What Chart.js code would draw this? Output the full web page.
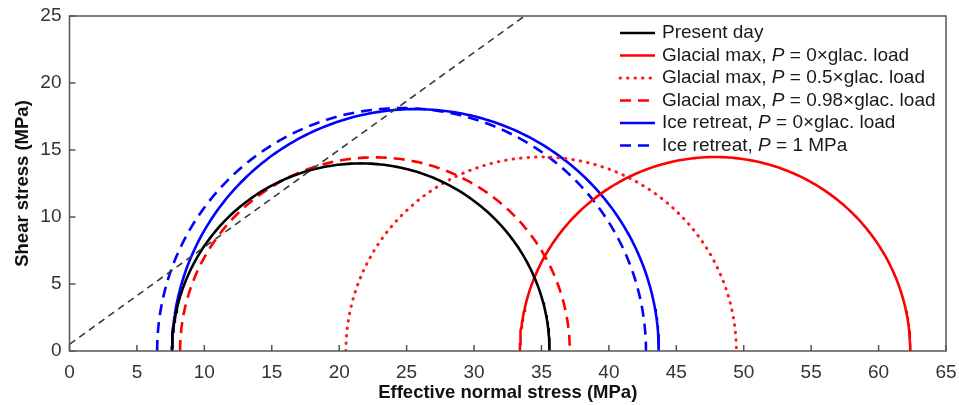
<!DOCTYPE html>
<html>
<head>
<meta charset="utf-8">
<script src="https://cdn.jsdelivr.net/npm/chart.js@4/dist/chart.umd.min.js"></script>
<style>
  html, body { margin: 0; padding: 0; background: #fff; }
  canvas { display: block; }
</style>
</head>
<body>
<canvas id="mohrChart" width="959" height="405"></canvas>
<script>
// Mohr circles: each stress state given by its minimum and maximum principal stress (MPa)
const stateLabels = [
    'Present day',
    'Glacial max, P = 0×glac. load',
    'Glacial max, P = 0.5×glac. load',
    'Glacial max, P = 0.98×glac. load',
    'Ice retreat, P = 0×glac. load',
    'Ice retreat, P = 1 MPa'
];
const sigma3 = [7.6, 33.4, 20.5, 8.2, 7.6, 6.5];
const sigma1 = [35.6, 62.35, 49.45, 37.1, 43.7, 42.75];

// Failure envelope (Coulomb line)
const envelopeX = [0, 33.75];
const envelopeY = [0.5, 25];

const xTicks = [0, 5, 10, 15, 20, 25, 30, 35, 40, 45, 50, 55, 60, 65];
const yTicks = [0, 5, 10, 15, 20, 25];

const lineColors = ['#000000', '#ff0000', '#ff1a1a', '#ff0000', '#0000ff', '#0000ff'];
const lineDashes = [[], [], [0.5, 7], [11, 7], [], [11, 7]];

// upper half of a Mohr circle between s3 and s1
function semicircle(s3, s1) {
    const c = (s1 + s3) / 2, r = (s1 - s3) / 2;
    const pts = [];
    for (let a = 180; a >= 0; a -= 1) {
        const t = a * Math.PI / 180;
        pts.push({ x: c + r * Math.cos(t), y: r * Math.sin(t) });
    }
    return pts;
}

const datasets = [{
    label: 'envelope',
    data: envelopeX.map((x, i) => ({ x: x, y: envelopeY[i] })),
    borderColor: '#3a3a3a',
    borderWidth: 1.6,
    borderDash: [7, 5],
    pointRadius: 0
}];
stateLabels.forEach((label, i) => {
    const dotted = lineDashes[i].length && lineDashes[i][0] < 2;
    datasets.push({
        label: label,
        data: semicircle(sigma3[i], sigma1[i]),
        borderColor: lineColors[i],
        borderWidth: dotted ? 3 : 2.6,
        borderDash: lineDashes[i],
        borderCapStyle: dotted ? 'round' : 'butt',
        pointRadius: 0,
        tension: 0,
        showInLegend: true
    });
});

const FONT = "'Liberation Sans', Arial, Helvetica, sans-serif";

// frame with inward ticks
const framePlugin = {
    id: 'frame',
    afterDraw(chart) {
        const { ctx, chartArea: a, scales } = chart;
        ctx.save();
        ctx.strokeStyle = '#555';
        ctx.lineWidth = 1.5;
        ctx.strokeRect(a.left, a.top, a.right - a.left, a.bottom - a.top);
        ctx.beginPath();
        xTicks.forEach(v => {
            const px = scales.x.getPixelForValue(v);
            ctx.moveTo(px, a.bottom);
            ctx.lineTo(px, a.bottom - 6);
        });
        yTicks.forEach(v => {
            const py = scales.y.getPixelForValue(v);
            ctx.moveTo(a.left, py);
            ctx.lineTo(a.left + 6, py);
        });
        ctx.stroke();
        ctx.restore();
    }
};

// legend with italic P
const legendPlugin = {
    id: 'mohrLegend',
    afterDatasetsDraw(chart) {
        const ctx = chart.ctx;
        const x0 = 620, x1 = 655, tx = 662, y0 = 33, dy = 22.5;
        ctx.save();
        ctx.textBaseline = 'middle';
        chart.data.datasets.filter(d => d.showInLegend).forEach((d, i) => {
            const y = y0 + i * dy;
            ctx.beginPath();
            ctx.strokeStyle = d.borderColor;
            ctx.lineWidth = d.borderWidth;
            ctx.setLineDash(d.borderDash);
            ctx.lineCap = d.borderCapStyle;
            ctx.moveTo(x0, y);
            ctx.lineTo(x1, y);
            ctx.stroke();
            ctx.setLineDash([]);
            ctx.fillStyle = '#1a1a1a';
            let x = tx;
            const parts = d.label.split(/(\bP\b)/);
            parts.forEach(p => {
                ctx.font = (p === 'P' ? 'italic ' : '') + '19px ' + FONT;
                ctx.fillText(p, x, y);
                x += ctx.measureText(p).width;
            });
        });
        ctx.restore();
    }
};

new Chart(document.getElementById('mohrChart'), {
    type: 'line',
    data: { datasets: datasets },
    plugins: [framePlugin, legendPlugin],
    options: {
        responsive: false,
        animation: false,
        parsing: false,
        layout: { padding: { top: 16, right: 13, left: 0, bottom: 0 } },
        plugins: { legend: { display: false }, tooltip: { enabled: false } },
        scales: {
            x: {
                type: 'linear',
                min: 0,
                max: 65,
                afterBuildTicks: s => { s.ticks = xTicks.map(v => ({ value: v })); },
                afterFit: s => { s.height = 54; },
                grid: { display: false },
                border: { display: false },
                ticks: { color: '#333', font: { family: FONT, size: 19 }, padding: 2, maxRotation: 0 },
                title: {
                    display: true,
                    text: 'Effective normal stress (MPa)',
                    color: '#111',
                    font: { family: FONT, size: 18.5, weight: 'bold' },
                    padding: { top: 0, bottom: 1 }
                }
            },
            y: {
                type: 'linear',
                min: 0,
                max: 25,
                afterBuildTicks: s => { s.ticks = yTicks.map(v => ({ value: v })); },
                afterFit: s => { s.width = 69.5; },
                grid: { display: false },
                border: { display: false },
                ticks: { color: '#333', font: { family: FONT, size: 19 }, padding: 0 },
                title: {
                    display: true,
                    text: 'Shear stress (MPa)',
                    color: '#111',
                    font: { family: FONT, size: 18.5, weight: 'bold' },
                    padding: { top: 12, bottom: 0 }
                }
            }
        }
    }
});
</script>
</body>
</html>
